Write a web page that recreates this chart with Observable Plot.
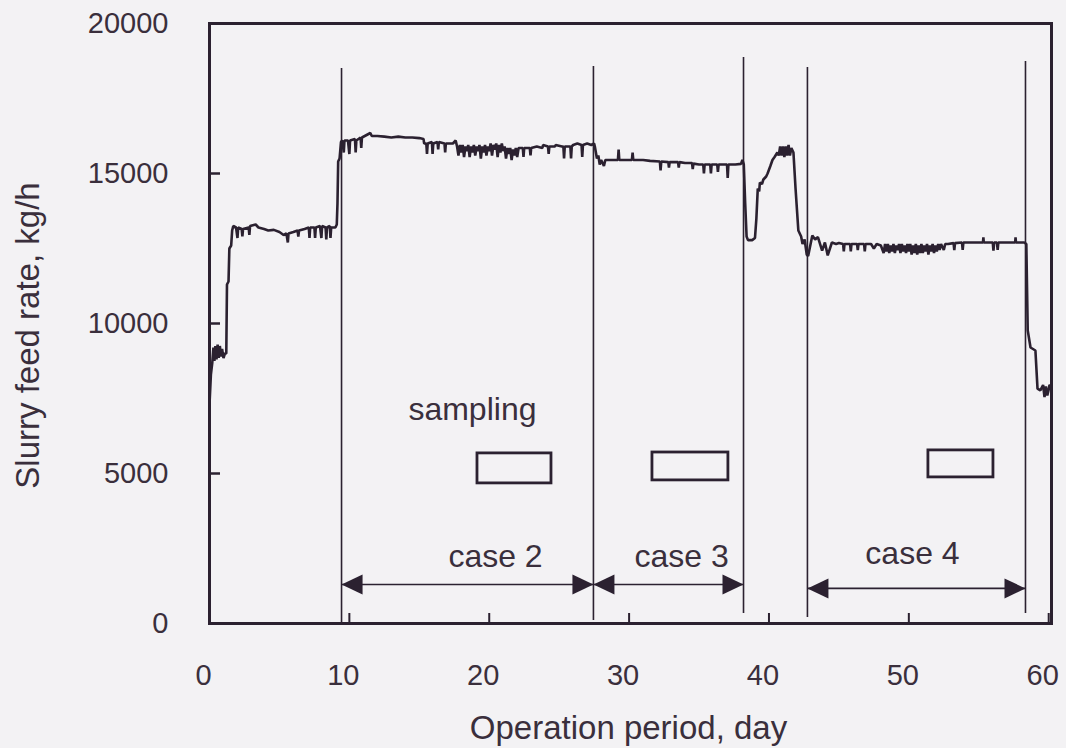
<!DOCTYPE html>
<html><head><meta charset="utf-8">
<script src="https://cdn.jsdelivr.net/npm/d3@7"></script>
<script src="https://cdn.jsdelivr.net/npm/@observablehq/plot@0.6"></script>
<style>
html,body{margin:0;padding:0;background:#f3f2f4;}
#chart svg{display:block}
</style></head><body><div id="chart"></div>
<script>
// ---- data ----
const traceDay = [
  0,0.1,0.2,0.28,0.35,0.42,0.5,0.58,0.66,0.74,0.82,0.9,1.0,1.1,
  1.2,1.25,1.36,1.42,1.55,1.62,1.7,
  1.9,2.0,2.05,2.3,2.35,2.4,2.8,2.85,2.9,3.3,3.5,3.9,4.2,4.6,5.0,5.3,5.5,5.6,5.65,6.0,6.3,6.35,6.4,6.8,7.1,7.15,7.2,7.5,7.55,7.6,7.9,8.0,8.05,8.3,8.35,8.4,8.6,8.65,8.7,9.0,
  9.1,9.15,9.2,9.3,9.4,
  9.5,9.6,9.65,9.9,10.0,10.05,10.4,10.45,10.5,10.8,10.85,10.9,11.3,11.5,11.6,12.0,12.5,13.0,13.5,14.0,14.5,15.0,15.3,15.35,15.5,15.55,15.6,15.9,15.95,16.0,16.3,16.35,16.4,16.8,16.85,16.9,17.4,17.6,
  17.7,17.8,17.9,18.0,18.1,18.2,18.3,18.4,18.5,18.6,18.7,18.8,18.9,19.0,19.1,19.2,19.3,19.4,19.5,19.6,19.7,19.8,19.9,20.0,20.1,20.2,20.3,20.4,20.5,20.6,20.7,20.8,20.9,21.0,21.1,21.2,21.3,21.4,21.5,21.6,21.7,21.8,21.9,22.0,22.1,
  22.4,22.45,22.5,22.9,22.95,23.0,23.4,23.8,23.85,24.2,24.25,24.3,24.7,24.75,25.2,25.3,25.35,25.4,25.8,25.85,25.9,26.0,26.3,26.6,26.65,26.7,27.0,27.3,27.5,
  27.55,27.7,27.8,27.9,28.0,28.2,28.3,
  28.5,29.0,29.2,29.25,29.3,30.0,30.2,30.25,30.3,31.0,31.5,32.2,32.25,32.3,32.8,32.85,32.9,33.5,33.55,33.6,34.0,34.5,34.55,34.6,35.0,35.3,35.35,35.4,35.8,35.85,35.9,36.3,36.35,36.4,37.0,37.05,37.1,37.6,38.0,38.1,
  38.2,38.3,38.4,38.5,38.8,39.0,39.1,39.2,39.3,39.35,39.5,39.6,39.8,39.9,40.1,40.25,40.4,40.6,40.7,40.8,40.9,41.0,41.1,41.2,41.3,41.4,41.5,41.6,41.75,41.9,42.1,42.3,42.4,42.55,42.7,42.8,
  43.1,43.3,43.5,43.8,44.0,44.2,44.5,44.8,45.0,45.3,45.35,45.4,45.8,45.85,45.9,46.3,46.35,46.4,46.8,46.85,46.9,47.3,47.5,47.7,48.0,
  48.2,48.3,48.4,48.5,48.6,48.7,48.8,48.9,49.0,49.1,49.2,49.3,49.4,49.5,49.6,49.7,49.8,49.9,50.0,50.1,50.2,50.3,50.4,50.5,50.6,50.7,50.8,50.9,51.0,51.1,51.2,51.3,51.4,51.5,51.6,51.7,51.8,51.9,52.0,52.1,52.2,52.3,52.5,52.6,52.8,
  53.2,53.25,53.3,53.8,53.85,53.9,54.5,55.0,55.3,55.33,55.36,56.0,56.05,56.1,56.3,56.35,56.4,57.0,57.6,57.63,57.66,58.25,
  58.4,58.5,58.7,59.05,59.2,59.4,59.6,59.7,59.8,59.9,60.0,60.05
];
const traceRate = [
  7300,8300,8700,9200,8750,9250,8800,9300,8850,9250,8900,9150,8850,9000,
  9000,11300,11400,12500,12600,13100,13250,
  13200,12850,13200,13150,12900,13150,13200,12950,13250,13300,13200,13150,13100,13120,13050,12950,13000,12700,13000,13050,13100,12900,13100,13150,13200,12850,13200,13200,12850,13200,13250,12850,13250,13200,12800,13200,13250,12850,13200,13200,
  13300,14000,15400,15500,16050,
  16100,15700,16100,16100,15650,16100,16150,15700,16100,16200,15850,16200,16300,16350,16250,16250,16230,16200,16230,16200,16200,16180,16150,16000,16000,15650,16000,16050,15650,16000,16050,15800,16050,16000,15700,16000,16000,16100,
  15900,15600,15950,15700,15950,15550,15900,15750,15950,15550,15900,15700,15950,15600,15900,15750,15950,15500,15900,15700,15950,15600,15900,15750,16000,15600,15950,15800,16000,15550,15950,15700,16000,15750,15900,15500,15850,15650,15850,15450,15800,15600,15850,15550,15850,
  15850,15550,15850,15850,15600,15850,15900,15850,15950,15900,15650,15900,15900,15950,15900,15900,15500,15900,15900,15500,15900,15950,16000,15950,15550,15950,16000,15950,16000,
  15900,15500,15600,15300,15450,15250,15450,
  15450,15450,15450,15800,15450,15450,15450,15700,15450,15450,15420,15400,15100,15400,15380,15200,15380,15380,15200,15380,15350,15350,15150,15330,15300,15300,15000,15300,15300,15000,15300,15300,15050,15300,15300,14850,15300,15300,15320,15450,
  15300,14000,12900,12780,12780,12850,13500,14500,14400,14700,14650,14800,14900,15000,15250,15450,15550,15700,15600,15900,15600,15900,15550,15900,15600,15950,15600,15850,15700,14500,13100,12900,12650,12800,12300,12250,
  12930,12800,12880,12430,12700,12270,12700,12650,12680,12650,12400,12650,12650,12400,12650,12650,12450,12650,12650,12400,12650,12650,12500,12650,12600,
  12350,12650,12400,12650,12350,12600,12400,12650,12350,12600,12450,12650,12350,12650,12400,12600,12350,12650,12400,12650,12300,12600,12350,12650,12300,12600,12350,12650,12350,12600,12400,12650,12300,12600,12400,12650,12350,12600,12400,12650,12450,12650,12450,12650,12650,
  12680,12450,12680,12700,12450,12700,12700,12700,12700,12870,12700,12700,12430,12700,12700,12450,12700,12700,12700,12870,12700,12700,
  12650,9770,9200,9100,7830,7770,7950,7550,7900,7600,7800,7930
];

const xTicks = [0, 10, 20, 30, 40, 50, 60];
const yTicks = [0, 5000, 10000, 15000, 20000];

const boundaryDay = [9.44, 27.45, 38.18, 42.75, 58.34];
const boundaryTop = [18500, 18570, 18870, 18530, 18730];
const boundaryBottom = [30, 100, 330, 200, 330];

const caseNames = ["case 2", "case 3", "case 4"];
const caseStart = [9.44, 27.45, 42.75];
const caseEnd = [27.45, 38.18, 58.34];
const caseArrowRate = [1300, 1300, 1170];
const caseLabelDay = [20.45, 33.75, 50.26];
const caseLabelRate = [1870, 1900, 2000];

const sampleStart = [19.16, 31.67, 51.4];
const sampleEnd = [24.45, 37.1, 56.05];
const sampleLow = [4670, 4770, 4870];
const sampleHigh = [5670, 5700, 5770];
const samplingText = ["sampling"];
const samplingDay = [18.8];
const samplingRate = [6800];

const xLabel = "Operation period, day";
const yLabel = "Slurry feed rate, kg/h";

// ---- build tables ----
const trace = traceDay.map((d, i) => ({day: d, rate: traceRate[i]}));
const boundaries = boundaryDay.map((d, i) => ({day: d, top: boundaryTop[i], bottom: boundaryBottom[i]}));
const cases = caseNames.map((n, i) => ({name: n, start: caseStart[i], end: caseEnd[i], rate: caseArrowRate[i], ld: caseLabelDay[i], lr: caseLabelRate[i]}));
const samples = sampleStart.map((s, i) => ({x1: s, x2: sampleEnd[i], y1: sampleLow[i], y2: sampleHigh[i]}));
const sampling = samplingText.map((t, i) => ({t, day: samplingDay[i], rate: samplingRate[i]}));

// ---- styling ----
const W = 1066, H = 748, ML = 209, MR = 15, MT = 23, MB = 125;
const plotW = W - ML - MR, plotH = H - MT - MB;
const ink = "#2b2130";
const textInk = "#3a2f3c";
const font = "'Liberation Sans', Arial, Helvetica, sans-serif";

const headLeft = {draw(ctx) { ctx.moveTo(0, 0); ctx.lineTo(21, -10); ctx.lineTo(21, 10); ctx.closePath(); }};
const headRight = {draw(ctx) { ctx.moveTo(0, 0); ctx.lineTo(-21, -10); ctx.lineTo(-21, 10); ctx.closePath(); }};

const chart = Plot.plot({
  width: W, height: H,
  marginLeft: ML, marginRight: MR, marginTop: MT, marginBottom: MB,
  style: {background: "transparent", fontFamily: font, color: textInk},
  x: {domain: [0, 60.2]},
  y: {domain: [0, 20000]},
  marks: [
    Plot.axisY({ticks: yTicks, tickSize: 0, tickPadding: 41, fontSize: 29, tickFormat: d => String(d), label: null, fill: textInk}),
    Plot.axisX({ticks: xTicks, tickSize: 0, tickPadding: 41, fontSize: 29, dx: -6, tickFormat: d => String(d), label: null, fill: textInk}),
    Plot.tickY(yTicks, {y: d => d, stroke: ink, strokeWidth: 2.5, insetRight: plotW - 11}),
    Plot.tickX(xTicks, {x: d => d, stroke: ink, strokeWidth: 2, insetTop: plotH - 10}),
    Plot.ruleX(boundaries, {x: "day", y1: "bottom", y2: "top", stroke: ink, strokeWidth: 1.6}),
    Plot.link(cases, {x1: "start", x2: "end", y1: "rate", y2: "rate", stroke: ink, strokeWidth: 1.6}),
    Plot.dot(cases, {x: "start", y: "rate", symbol: headLeft, fill: ink, stroke: null, r: 6}),
    Plot.dot(cases, {x: "end", y: "rate", symbol: headRight, fill: ink, stroke: null, r: 6}),
    Plot.text(cases, {x: "ld", y: "lr", text: "name", lineAnchor: "bottom", fontSize: 32, fill: textInk}),
    Plot.rect(samples, {x1: "x1", x2: "x2", y1: "y1", y2: "y2", fill: "none", stroke: ink, strokeWidth: 2.8}),
    Plot.text(sampling, {x: "day", y: "rate", text: "t", lineAnchor: "bottom", fontSize: 32, fill: textInk}),
    Plot.line(trace, {x: "day", y: "rate", stroke: ink, strokeWidth: 2.6, strokeLinejoin: "miter"}),
    Plot.frame({stroke: ink, strokeWidth: 3}),
    Plot.text([xLabel], {text: d => d, frameAnchor: "bottom", textAnchor: "middle", dy: 115, dx: -2, lineAnchor: "bottom", fontSize: 33, fill: textInk}),
    Plot.text([yLabel], {text: d => d, frameAnchor: "left", textAnchor: "middle", lineAnchor: "middle", rotate: -90, dx: -181, dy: 12, fontSize: 33, fill: textInk})
  ]
});
document.getElementById("chart").append(chart);
</script>
</body></html>
